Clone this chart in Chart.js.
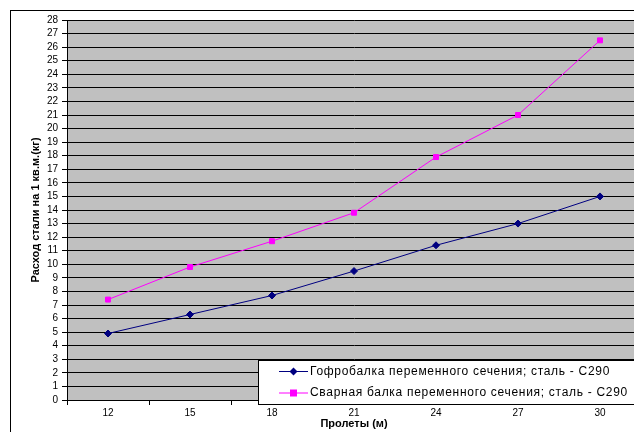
<!DOCTYPE html>
<html>
<head>
<meta charset="utf-8">
<script src="https://cdn.jsdelivr.net/npm/chart.js@4.4.1/dist/chart.umd.min.js"></script>
<style>
    html, body { margin: 0; padding: 0; background: #fff; overflow: hidden; }
    #grafico { display: block; }
</style>
</head>
<body>
<canvas id="grafico" width="660" height="432"></canvas>
<script>
    const prolety = ['12', '15', '18', '21', '24', '27', '30'];
    const gofrobalka = [4.9, 6.3, 7.7, 9.5, 11.4, 13.0, 15.0];
    const svarnaya = [7.4, 9.8, 11.7, 13.8, 17.9, 21.0, 26.5];
    const nazvaniya = [
        'Гофробалка переменного сечения; сталь - С290',
        'Сварная балка переменного сечения; сталь - С290'
    ];

    const shrift = "'Liberation Sans', Arial, sans-serif";

    // fundo cinza da area do grafico e moldura externa
    const fundo = {
        id: 'fundo',
        beforeDraw(chart) {
            const ctx = chart.ctx;
            const a = chart.chartArea;
            ctx.save();
            ctx.fillStyle = '#fff';
            ctx.fillRect(0, 0, chart.width, chart.height);
            ctx.strokeStyle = '#000';
            ctx.lineWidth = 1;
            ctx.strokeRect(10.5, 10.5, chart.width, chart.height);
            ctx.fillStyle = '#c0c0c0';
            ctx.fillRect(a.left, a.top, a.right - a.left, a.bottom - a.top);
            ctx.restore();
        }
    };

    // legenda desenhada por cima da area do grafico
    const legenda = {
        id: 'legenda',
        afterDraw(chart) {
            const ctx = chart.ctx;
            ctx.save();
            ctx.fillStyle = '#fff';
            ctx.fillRect(258, 360, 420, 45);
            ctx.strokeStyle = '#000';
            ctx.lineWidth = 1;
            ctx.strokeRect(258.5, 360.5, 420, 44);
            chart.data.datasets.forEach(function (ds, i) {
                const y = 371.5 + i * 21.5;
                ctx.strokeStyle = ds.borderColor;
                ctx.beginPath();
                ctx.moveTo(279, y);
                ctx.lineTo(308, y);
                ctx.stroke();
                ctx.fillStyle = ds.pointBackgroundColor;
                ctx.beginPath();
                if (ds.pointStyle === 'rect') {
                    ctx.rect(290, y - 3.5, 7, 7);
                } else {
                    ctx.moveTo(293.5, y - 4);
                    ctx.lineTo(297.5, y);
                    ctx.lineTo(293.5, y + 4);
                    ctx.lineTo(289.5, y);
                    ctx.closePath();
                }
                ctx.fill();
                ctx.fillStyle = '#000';
                ctx.font = '12px ' + shrift;
                ctx.letterSpacing = '0.7px';
                ctx.textBaseline = 'middle';
                ctx.textAlign = 'left';
                ctx.fillText(ds.label, 310, y);
            });
            ctx.restore();
        }
    };

    new Chart(document.getElementById('grafico').getContext('2d'), {
        type: 'line',
        data: {
            labels: prolety,
            datasets: [{
                label: nazvaniya[0],
                data: gofrobalka,
                borderColor: '#000080',
                backgroundColor: '#000080',
                pointBackgroundColor: '#000080',
                pointBorderColor: '#000080',
                pointStyle: 'rectRot',
                pointRadius: 3.5,
                borderWidth: 1,
                tension: 0
            }, {
                label: nazvaniya[1],
                data: svarnaya,
                borderColor: '#ff00ff',
                backgroundColor: '#ff00ff',
                pointBackgroundColor: '#ff00ff',
                pointBorderColor: '#ff00ff',
                pointStyle: 'rect',
                pointRadius: 3.5,
                borderWidth: 1,
                tension: 0
            }]
        },
        options: {
            responsive: false,
            animation: false,
            layout: {
                padding: { left: 0, top: 20, right: 19, bottom: 0 }
            },
            plugins: {
                legend: { display: false },
                tooltip: { enabled: false }
            },
            scales: {
                x: {
                    offset: true,
                    grid: {
                        offset: true,
                        drawOnChartArea: false,
                        drawTicks: true,
                        tickLength: 5,
                        color: '#000'
                    },
                    border: { display: true, color: '#000' },
                    ticks: {
                        color: '#000',
                        padding: 2,
                        maxRotation: 0,
                        font: { family: shrift, size: 10 }
                    },
                    title: {
                        display: true,
                        text: 'Пролеты (м)',
                        color: '#000',
                        padding: { top: 0, bottom: 1 },
                        font: { family: shrift, size: 11, weight: 'bold' }
                    },
                    afterFit: function (scale) {
                        scale.height = 32;
                    }
                },
                y: {
                    min: 0,
                    max: 28,
                    grid: {
                        color: '#000',
                        tickLength: 5,
                        drawTicks: true
                    },
                    border: { display: true, color: '#000' },
                    ticks: {
                        stepSize: 1,
                        autoSkip: false,
                        color: '#000',
                        padding: 4,
                        font: { family: shrift, size: 10 }
                    },
                    title: {
                        display: true,
                        text: 'Расход стали на 1 кв.м.(кг)',
                        color: '#000',
                        padding: { top: 29, bottom: 0 },
                        font: { family: shrift, size: 11, weight: 'bold' }
                    },
                    afterFit: function (scale) {
                        scale.width = 67;
                    }
                }
            }
        },
        plugins: [fundo, legenda]
    });
</script>
</body>
</html>
